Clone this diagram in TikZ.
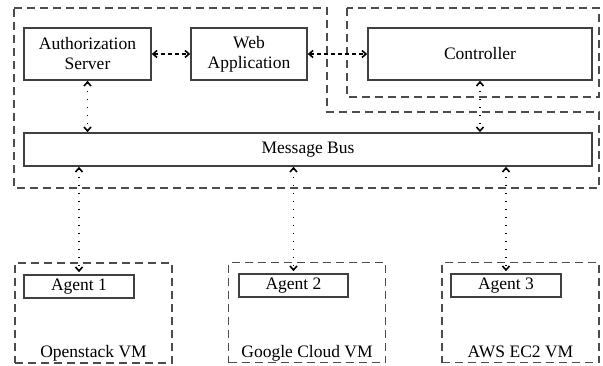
\documentclass[tikz,border=0pt]{standalone}
\usepackage{fontspec}
\setmainfont{Liberation Serif}
\usetikzlibrary{arrows.meta,positioning}
\begin{document}
\begin{tikzpicture}[x=1pt,y=-1pt,font=\fontsize{17.5}{20}\selectfont]
        \tikzset{BoxStyle/.style={draw=black!75, line width=1.6pt, fill=white,
            inner sep=0pt, align=center}}
        \tikzset{GroupStyle/.style={draw=black!70, line width=1.4pt,
            dash pattern=on 8pt off 5pt}}
        \tikzset{VmStyle/.style={GroupStyle, minimum width=157pt,
            minimum height=100pt, inner sep=0pt}}
        \tikzset{AgentStyle/.style={BoxStyle, minimum width=110pt, minimum height=23pt}}
        \tikzset{TipStyle/.style={{Straight Barb[length=4pt,width=7pt,line width=1.6pt]}-{Straight Barb[length=4pt,width=7pt,line width=1.6pt]}}}
        \tikzset{WebLink/.style={TipStyle, black, line width=1.4pt,
            dash pattern=on 4pt off 3pt}}
        \tikzset{BusLink/.style={TipStyle, black, line width=1.6pt,
            dash pattern=on 1.6pt off 6.4pt}}

        \useasboundingbox (0,0) rectangle (603,365);

        \draw[GroupStyle] (14,8) -- (327,8) -- (327,112) -- (599,112)
          -- (599,188) -- (14,188) -- cycle;
        \draw[GroupStyle] (347,8) rectangle (599,97);

        \node[VmStyle] (vm1) at (93.5,313) {};
        \node[VmStyle] (vm2) at (307,312.5) {};
        \node[VmStyle] (vm3) at (520.5,312.5) {};

        \node[anchor=base] (vm1name) at ([yshift=6pt]vm1.south) {Openstack VM};
        \node[anchor=base] (vm2name) at ([yshift=6pt]vm2.south) {Google Cloud VM};
        \node[anchor=base] (vm3name) at ([yshift=6pt]vm3.south) {AWS EC2 VM};

        \node[BoxStyle, minimum width=127pt, minimum height=52pt] (auth) at (87.5,54)
          {Authorization\\Server};
        \node[BoxStyle, minimum width=116pt, minimum height=52pt] (web) at (249,54)
          {Web\\Application};
        \node[BoxStyle, minimum width=224pt, minimum height=52pt] (ctrl) at (480,54)
          {Controller};
        \node[BoxStyle, minimum width=568pt, minimum height=33pt] (bus) at (308,149.5)
          {Message Bus};

        \node[AgentStyle] (agent1) at (79,286.5) {Agent 1};
        \node[AgentStyle, minimum width=109pt] (agent2) at (293.5,285.5) {Agent 2};
        \node[AgentStyle] (agent3) at (506,285.5) {Agent 3};

        \draw[WebLink] (auth) -- (web);
        \draw[WebLink] (web) -- (ctrl);

        \draw[BusLink] (auth.south) -- (auth.south |- bus.north);
        \draw[BusLink] (ctrl.south) -- (ctrl.south |- bus.north);

        \foreach \a in {agent1,agent2,agent3}
          \draw[BusLink] (\a.north |- bus.south) -- ([yshift=2pt]\a.north);
      \end{tikzpicture}
\end{document}
